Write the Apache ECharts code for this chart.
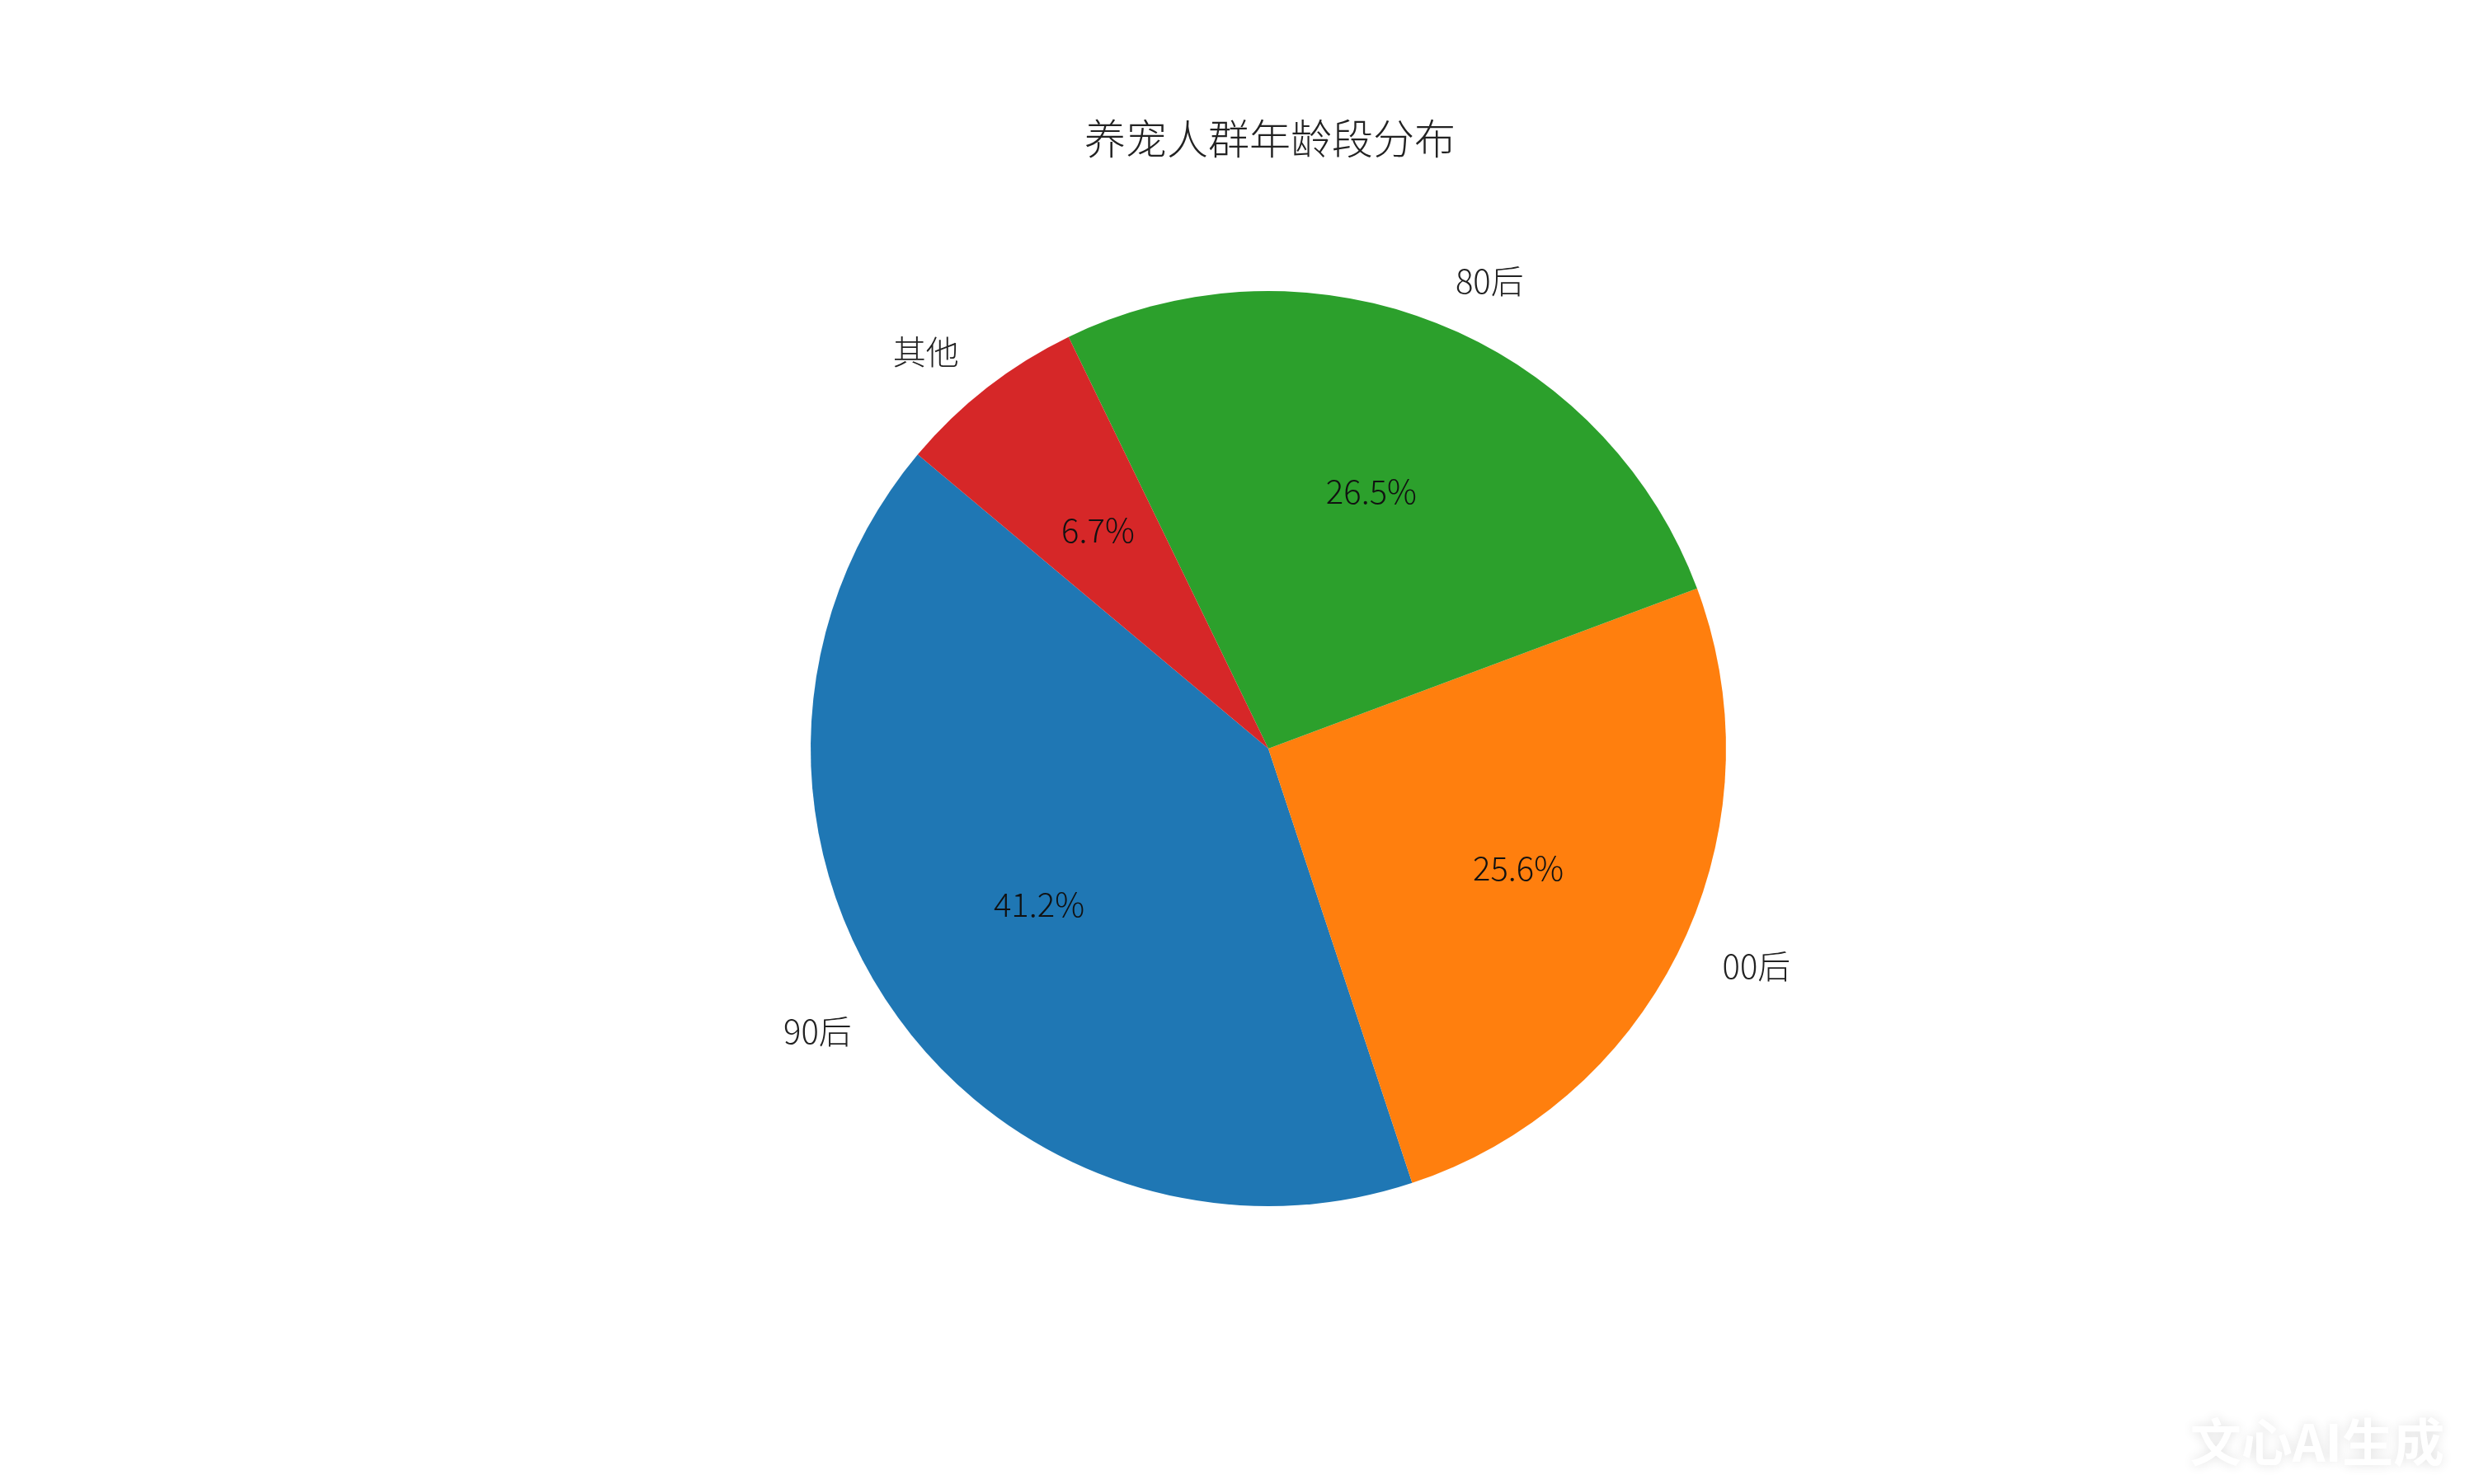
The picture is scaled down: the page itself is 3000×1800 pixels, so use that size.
<!DOCTYPE html>
<html>
<head>
<meta charset="utf-8">
<script src="https://cdn.jsdelivr.net/npm/echarts@6/dist/echarts.min.js"></script>
<style>
html,body{margin:0;padding:0;background:#fff;}
#main{width:3000px;height:1800px;}
</style>
</head>
<body>
<div id="main"></div>
<script>
var categories = ['90后', '00后', '80后', '其他'];
var values = [41.2, 25.6, 26.5, 6.7];
var colors = ['#1f77b4', '#ff7f0e', '#2ca02c', '#d62728'];
var titleText = '养宠人群年龄段分布';

var FONT = '"Noto Sans CJK SC", "Noto Sans", sans-serif';
var CX = 1538, CY = 908, R = 555;

var chart = echarts.init(document.getElementById('main'), null, {renderer: 'canvas'});

var pieData = categories.map(function (c, i) {
  return {name: c, value: values[i], itemStyle: {color: colors[i]}};
});
var pctData = categories.map(function (c, i) {
  return {name: c, value: values[i]};
});

chart.setOption({
  backgroundColor: '#ffffff',
  animation: false,
  title: [{
    text: titleText,
    left: 1315,
    top: 143,
    padding: 0,
    textStyle: {fontFamily: FONT, fontWeight: 200, fontSize: 50, color: '#222'}
  }, {
    text: '文心AI生成',
    right: 36,
    bottom: 20,
    padding: 0,
    textStyle: {
      fontFamily: FONT, fontWeight: 'bold', fontSize: 62, color: '#ffffff',
      textShadowColor: 'rgba(0,0,0,0.12)', textShadowBlur: 14
    }
  }],
  series: [{
    type: 'pie',
    center: [CX, CY],
    radius: [0, R],
    startAngle: 140,
    clockwise: false,
    avoidLabelOverlap: false,
    silent: true,
    z: 2,
    data: pieData,
    label: {
      show: true,
      position: 'outside',
      distanceToLabelLine: 0,
      fontFamily: FONT, fontWeight: 200, fontSize: 40, color: '#222',
      formatter: '{b}'
    },
    labelLine: {show: false, length: R * 0.1, length2: 0}
  }, {
    type: 'pie',
    center: [CX, CY],
    radius: [0, R * 1.2],
    startAngle: 140,
    clockwise: false,
    avoidLabelOverlap: false,
    silent: true,
    z: 5,
    data: pctData,
    itemStyle: {color: 'rgba(0,0,0,0)'},
    label: {
      show: true,
      position: 'inside',
      fontFamily: FONT, fontWeight: 200, fontSize: 40, color: '#111',
      formatter: function (p) { return p.percent.toFixed(1) + '%'; }
    },
    labelLine: {show: false}
  }]
});
</script>
</body>
</html>
